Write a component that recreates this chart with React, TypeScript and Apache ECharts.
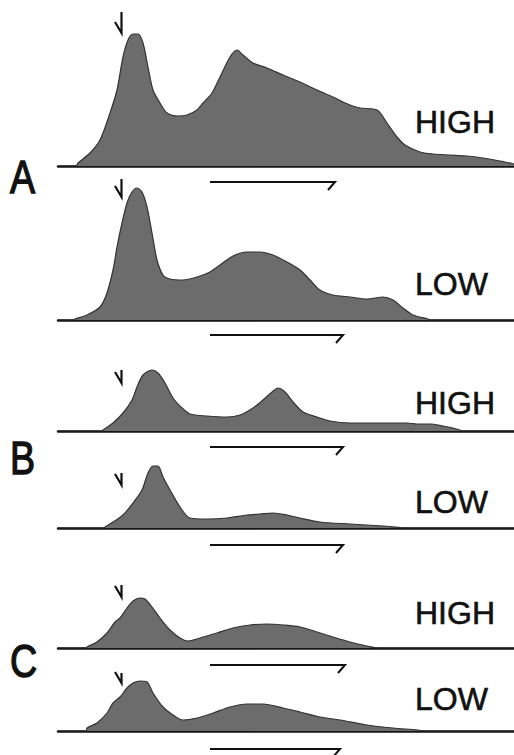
import React, { useEffect, useRef } from "react";
import * as echarts from "echarts";

// ---- Data: channel position (0..456) and relative intensity for each profile ----
const aHighCh = [0, 18, 20, 32, 42, 52, 59, 65, 70, 75, 80, 85, 90, 95, 102, 109, 120, 129, 139, 145, 154, 162, 172, 179, 185, 195, 209, 225, 242, 259, 275, 292, 302, 319, 329, 339, 347, 362, 375, 392, 409, 425, 442, 456];
const aHighVal = [0, 0, 3, 13, 26, 53, 76, 109, 126, 132, 132, 123, 99, 76, 63, 53, 50, 51, 56, 63, 73, 89, 109, 116, 111, 103, 98, 91, 84, 76, 69, 61, 58, 56, 43, 29, 21, 14, 12, 11, 10, 8, 5, 2];

const aLowCh = [0, 15, 17, 29, 42, 49, 55, 59, 64, 69, 74, 79, 84, 89, 94, 99, 105, 112, 125, 139, 152, 162, 175, 189, 202, 215, 229, 242, 252, 262, 275, 292, 309, 325, 335, 345, 355, 370, 372, 456];
const aLowVal = [0, 0, 1, 5, 13, 27, 50, 73, 97, 117, 128, 132, 128, 113, 87, 60, 45, 41, 40, 43, 48, 55, 64, 68, 68, 65, 58, 50, 40, 30, 25, 23, 21, 23, 20, 12, 5, 1, 0, 0];

const bHighCh = [0, 44, 45, 55, 65, 74, 79, 85, 94, 100, 107, 115, 124, 132, 149, 169, 182, 195, 205, 214, 220, 227, 235, 245, 259, 272, 292, 315, 335, 349, 359, 372, 385, 395, 402, 404, 456];
const bHighVal = [0, 0, 1, 8, 18, 31, 44, 56, 61, 58, 48, 33, 23, 17, 15, 14, 16, 23, 31, 39, 43, 39, 29, 19, 14, 10, 8, 8, 8, 8, 7, 7, 5, 3, 1, 0, 0];

const bLowCh = [0, 46, 47, 55, 65, 75, 84, 90, 95, 100, 105, 112, 122, 132, 149, 169, 189, 202, 215, 229, 242, 262, 292, 325, 352, 456];
const bLowVal = [0, 0, 1, 6, 13, 25, 38, 55, 62, 62, 51, 38, 21, 10, 9, 10, 13, 14, 15, 13, 10, 6, 4, 2, 0, 0];

const cHighCh = [0, 28, 29, 39, 49, 57, 62, 69, 75, 82, 87, 94, 102, 112, 122, 130, 142, 159, 175, 192, 209, 225, 242, 259, 275, 292, 309, 320, 456];
const cHighVal = [0, 0, 1, 6, 15, 26, 30, 40, 47, 50, 49, 41, 30, 18, 10, 7, 10, 15, 20, 23, 24, 23, 21, 16, 11, 6, 2, 0, 0];

const cLowCh = [0, 28, 29, 39, 49, 55, 62, 69, 75, 82, 89, 95, 105, 115, 125, 139, 155, 172, 189, 205, 225, 242, 262, 282, 309, 335, 360, 365, 456];
const cLowVal = [0, 0, 3, 8, 18, 28, 34, 43, 48, 50, 49, 38, 24, 16, 11, 13, 18, 24, 27, 27, 23, 19, 14, 11, 6, 3, 1, 0, 0];

const groupLetters = ["A", "B", "C"];
const levelLabels = ["HIGH", "LOW", "HIGH", "LOW", "HIGH", "LOW"];

// ---- Layout (positions only) ----
const panels = [
  { ch: aHighCh, val: aHighVal, base: 166, h: 140, labelY: 121.5, mark: [12, 33], arrowY: 182, arrowEnd: 335 },
  { ch: aLowCh, val: aLowVal, base: 320, h: 140, labelY: 283.5, mark: [179, 197], arrowY: 335, arrowEnd: 343 },
  { ch: bHighCh, val: bHighVal, base: 431, h: 70, labelY: 402.5, mark: [370, 383], arrowY: 447, arrowEnd: 343 },
  { ch: bLowCh, val: bLowVal, base: 528, h: 70, labelY: 502, mark: [473, 485], arrowY: 545, arrowEnd: 343 },
  { ch: cHighCh, val: cHighVal, base: 648, h: 70, labelY: 613, mark: [585, 597], arrowY: 665, arrowEnd: 345 },
  { ch: cLowCh, val: cLowVal, base: 731, h: 70, labelY: 698.5, mark: [673, 683], arrowY: 749, arrowEnd: 340 },
];
const letterY = [176, 457, 660];

export default function App() {
  const ref = useRef<HTMLDivElement>(null);
  useEffect(() => {
    if (!ref.current) return;
    const chart = echarts.init(ref.current, undefined, { renderer: "svg" });
    const grid: any[] = [];
    const xAxis: any[] = [];
    const yAxis: any[] = [];
    const series: any[] = [];
    const graphic: any[] = [];
    panels.forEach((p, i) => {
      grid.push({ left: 58, width: 456, top: p.base - p.h, height: p.h });
      xAxis.push({
        gridIndex: i, type: "value", min: 0, max: 456,
        axisLine: { show: true, lineStyle: { color: "#151515", width: 2.5 } },
        axisTick: { show: false }, axisLabel: { show: false }, splitLine: { show: false },
      });
      yAxis.push({ gridIndex: i, type: "value", min: 0, max: p.h, show: false });
      series.push({
        type: "line", xAxisIndex: i, yAxisIndex: i,
        data: p.ch.map((c, k) => [c, p.val[k]]),
        smooth: 0.3, showSymbol: false, silent: true,
        lineStyle: { color: "#333", width: 1.2 },
        areaStyle: { color: "#6c6c6c", opacity: 1 },
      });
      graphic.push({
        type: "text", x: 415, y: p.labelY,
        style: { text: levelLabels[i], fontSize: 32, fontFamily: "Liberation Sans", fill: "#111", stroke: "#111", lineWidth: 0.6, align: "left", verticalAlign: "middle" },
      });
      graphic.push({
        type: "polyline",
        shape: { points: [[115, p.mark[1] - 11], [121.5, p.mark[1]], [121.5, p.mark[0]]] },
        style: { stroke: "#111", lineWidth: 2.2, fill: null },
      });
      graphic.push({
        type: "polyline",
        shape: { points: [[210, p.arrowY], [p.arrowEnd, p.arrowY], [p.arrowEnd - 7, p.arrowY + 8]] },
        style: { stroke: "#111", lineWidth: 2, fill: null },
      });
    });
    groupLetters.forEach((l, i) => {
      graphic.push({
        type: "text", x: 10, y: letterY[i], scaleX: 0.8,
        style: { text: l, fontSize: 47, fontFamily: "Liberation Sans", fill: "#111", stroke: "#111", lineWidth: 1.4, align: "left", verticalAlign: "middle" },
      });
    });
    chart.setOption({ animation: false, backgroundColor: "#fff", grid, xAxis, yAxis, series, graphic });
    return () => chart.dispose();
  }, []);
  return <div ref={ref} style={{ position: "fixed", left: 0, top: 0, width: 514, height: 755 }} />;
}
